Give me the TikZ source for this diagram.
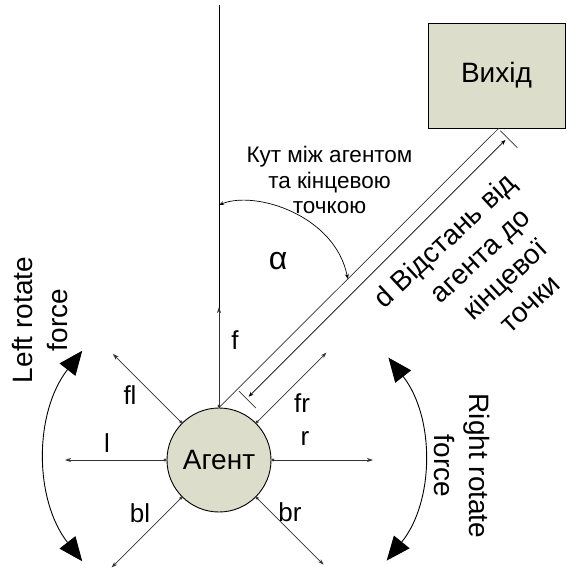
\documentclass[tikz,border=0pt]{standalone}
\usepackage{fontspec}
\setmainfont{Liberation Sans}
\usetikzlibrary{arrows.meta,calc}
\definecolor{khaki}{RGB}{220,221,203}
\begin{document}
\begin{tikzpicture}[x=1pt,y=-1pt,
  lbl/.style={font=\fontsize{26}{30}\selectfont, inner sep=0},
  big/.style={font=\fontsize{28}{35}\selectfont, align=center, inner sep=0},
  slanted line/.style={font=\fontsize{28}{35}\selectfont, inner sep=0, rotate=43},
  note/.style={font=\fontsize{22.5}{25.5}\selectfont, align=center, inner sep=0},
  ray/.style={draw=black!80, line width=0.7pt, {Circle[length=3pt]}-{Stealth[length=6pt,width=4pt]}},
  turn/.style={line width=0.9pt, {Triangle[length=24pt,width=20pt]}-{Triangle[length=24pt,width=20pt]}},
  dimarrow/.style={line width=0.7pt, {Stealth[length=5pt,width=4pt]}-{Stealth[length=5pt,width=4pt]}},
  thin line/.style={line width=0.7pt, draw=black!80},
]
\useasboundingbox (0,0) rectangle (567,574);

% agent and exit
\node[circle, draw, fill=khaki, line width=0.9pt, minimum size=104pt, inner sep=0,
      font=\fontsize{28}{30}\selectfont] (agent) at (219,460) {Агент};
\node[draw, fill=khaki, line width=1pt, minimum width=137pt, minimum height=105pt,
      font=\fontsize{28}{30}\selectfont] (exit) at (496.5,75.5) {Вихід};

% heading reference line and line to the exit
\coordinate (top) at (219,5);
\coordinate (goal) at (499,128);
\draw[line width=1pt] (agent.north) -- (top);
\draw[thin line] (agent.north) -- (goal);

% angle between heading and exit
\coordinate (a1) at (219,205);
\coordinate (a2) at ($(agent.north)!0.46!(goal)$);
\draw[dimarrow] (a1) .. controls (255,190) and (335,215) .. (a2);
\node[font=\fontsize{32}{32}\selectfont, inner sep=0] (alpha) at (278,261) {α};
\node[note] (angtext) at (329.5,180) {Кут між агентом\\та кінцевою\\точкою};

% distance dimension
\coordinate (t1a) at (238.8,391);
\coordinate (t1b) at (255.8,408);
\coordinate (t2a) at (500.4,130.8);
\coordinate (t2b) at (517.4,147.8);
\coordinate (d1) at (248.7,396.7);
\coordinate (d2) at (505.4,140.0);
\draw[thin line] (t1a) -- (t1b);
\draw[thin line] (t2a) -- (t2b);
\draw[dimarrow] (d1) -- (d2);
\node[slanted line] (dist1) at (446,242) {d Відстань від};
\node[slanted line] (dist2) at (483,259) {агента до};
\node[slanted line] (dist3) at (506,281) {кінцевої};
\node[slanted line] (dist4) at (531,305) {точки};

% force rays
\coordinate (fend) at (219,307);
\draw[ray] (agent.north) -- (fend);
\draw[ray] (agent.45)  -- ([shift={(45:152pt)}]agent.center) coordinate (frend);
\draw[ray] (agent.0)   -- ([shift={(0:154pt)}]agent.center) coordinate (rend);
\draw[ray] (agent.315) -- ([shift={(315:148pt)}]agent.center) coordinate (brend);
\draw[ray] (agent.135) -- ([shift={(135:150pt)}]agent.center) coordinate (flend);
\draw[ray] (agent.180) -- ([shift={(180:154pt)}]agent.center) coordinate (lend);
\draw[ray] (agent.225) -- ([shift={(225:152pt)}]agent.center) coordinate (blend);

\node[lbl] (f)  at (235,340) {f};
\node[lbl] (fr) at (302,403) {fr};
\node[lbl] (r)  at (305,438) {r};
\node[lbl] (br) at (290,512) {br};
\node[lbl] (fl) at (130,395) {fl};
\node[lbl] (l)  at (107,443) {l};
\node[lbl] (bl) at (140,513) {bl};

% rotation forces
\coordinate (lc) at (217,456);
\coordinate (rc) at (260,458);
\draw[turn] ([shift={(142:171pt)}]lc) arc[start angle=142, end angle=218, radius=171pt];
\draw[turn] ([shift={(38:163pt)}]rc) arc[start angle=38, end angle=-39, radius=163pt];
\node[big, rotate=90]  (lrf) at (40,320)  {Left rotate\\force};
\node[big, rotate=-90] (rrf) at (462,466) {Right rotate\\force};
\end{tikzpicture}
\end{document}
